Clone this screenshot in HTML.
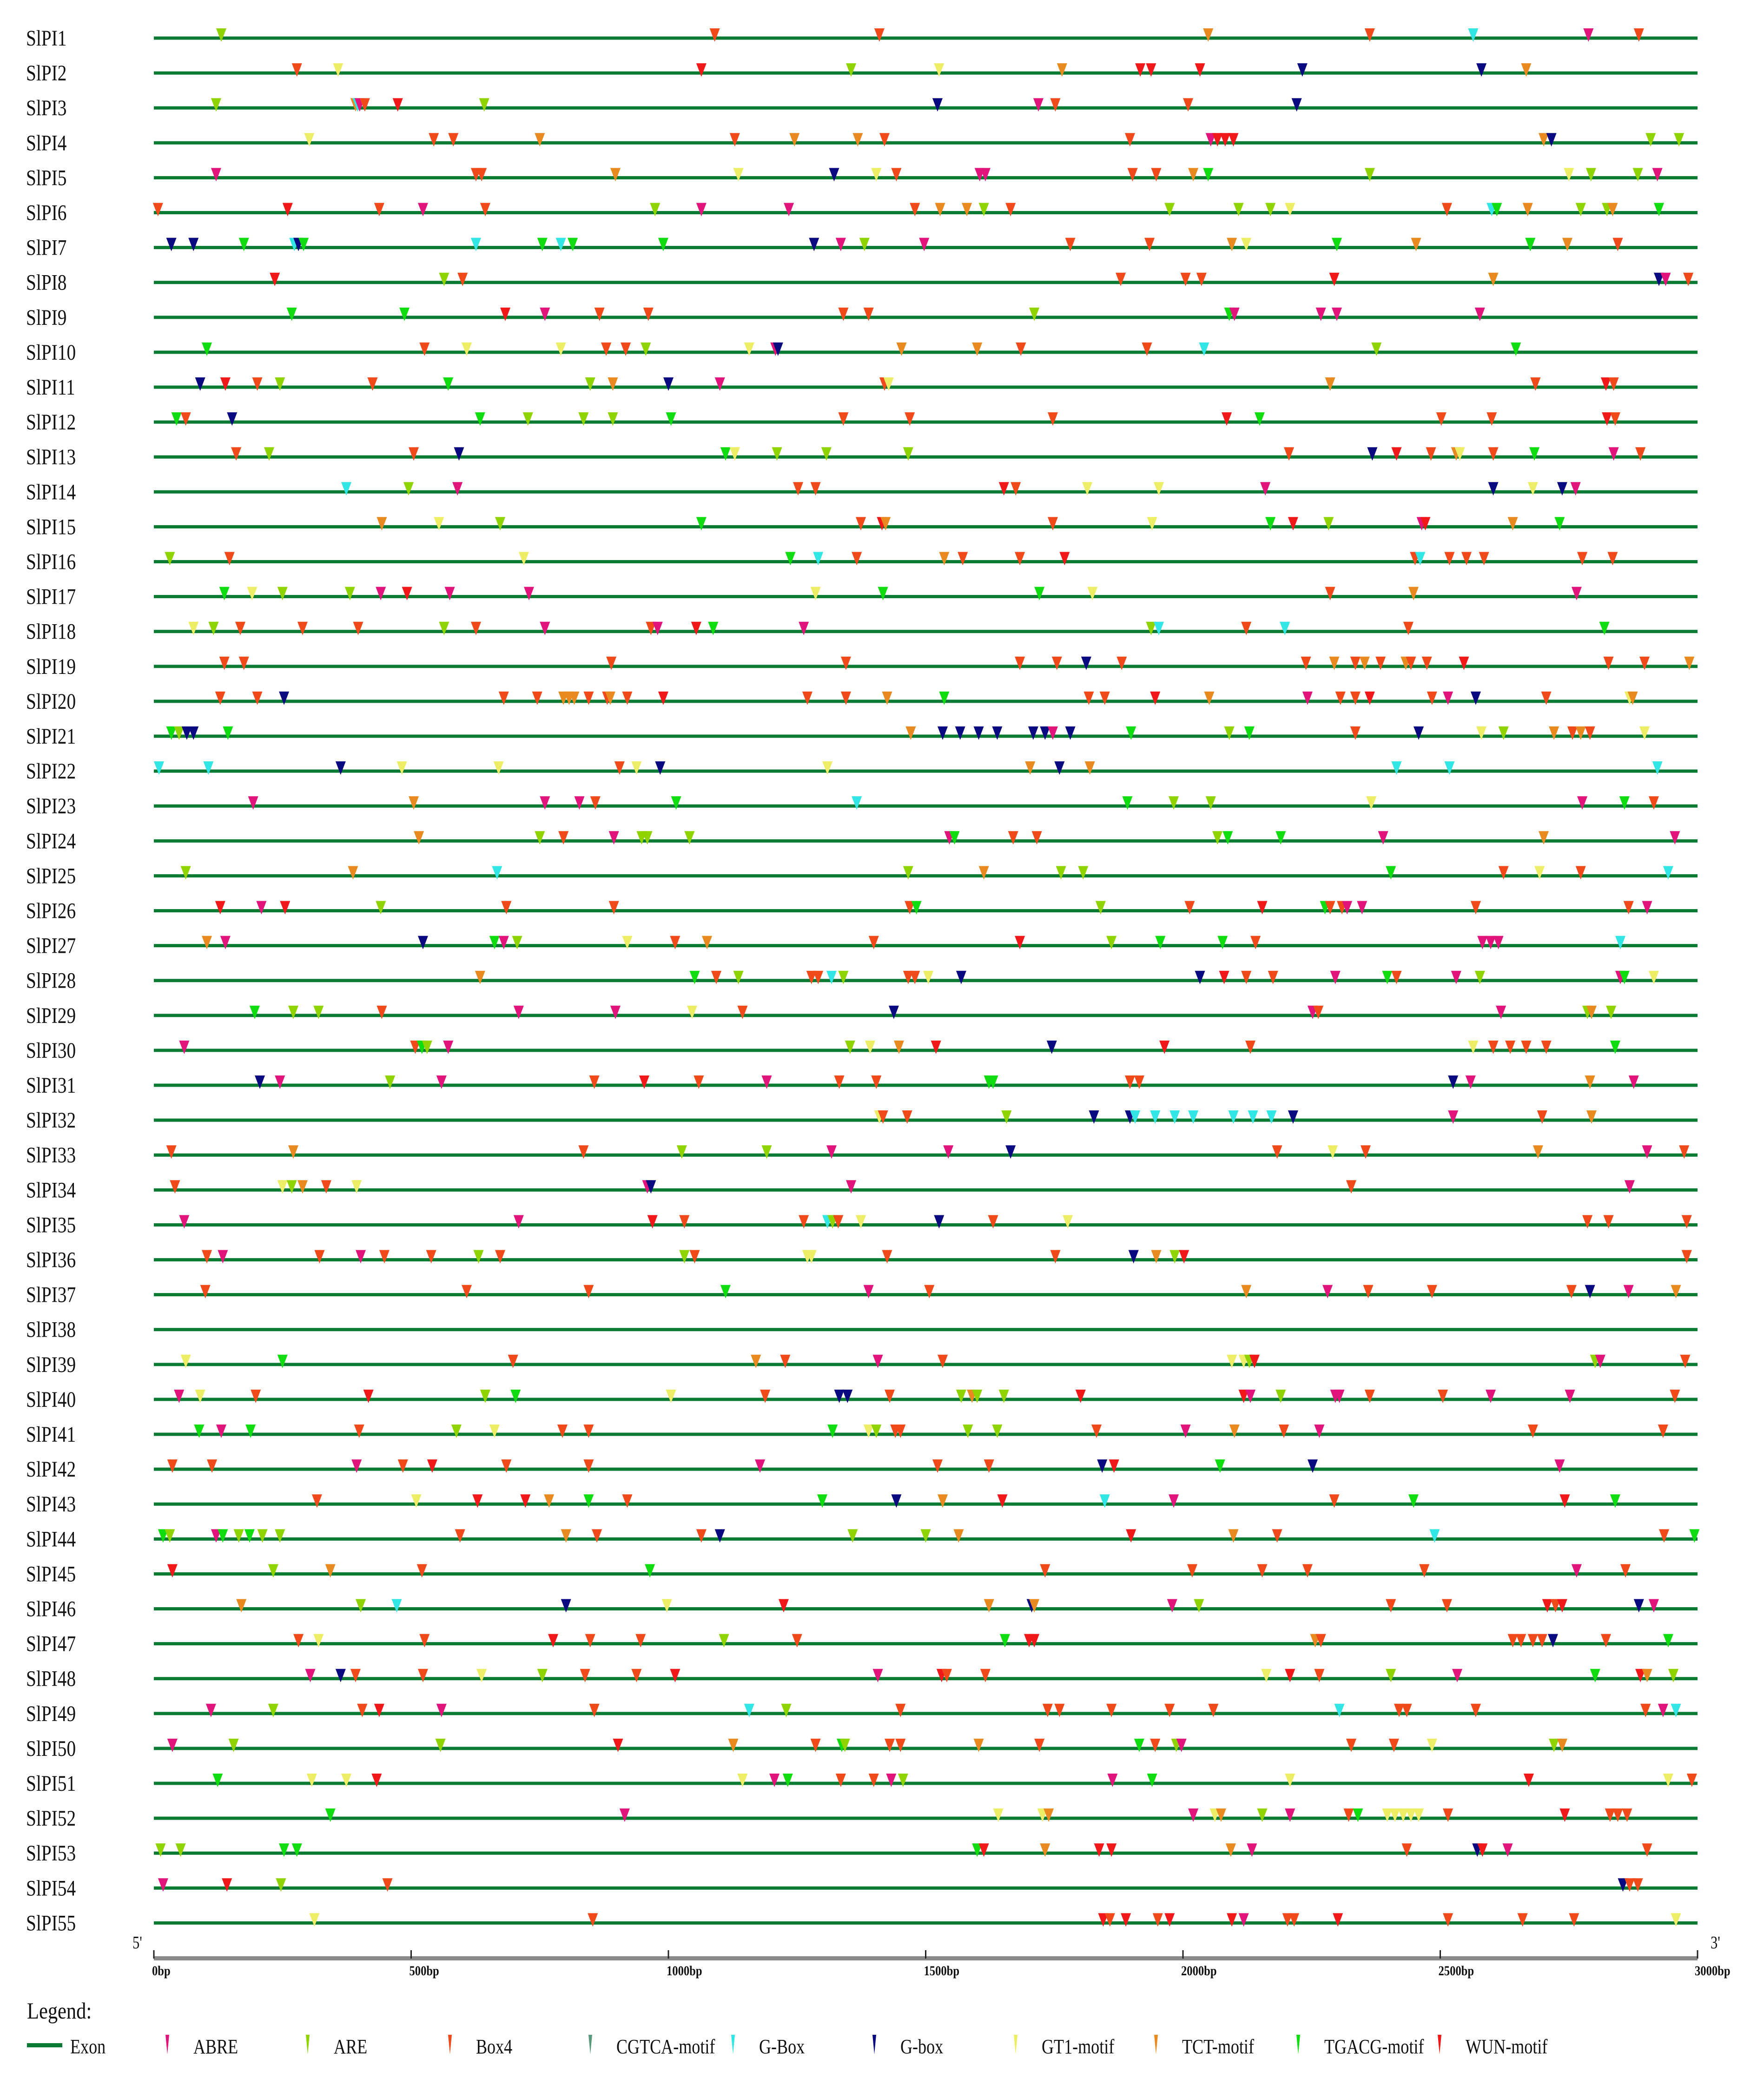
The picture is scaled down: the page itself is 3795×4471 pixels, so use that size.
<!DOCTYPE html>
<html><head><meta charset="utf-8"><style>
html,body{margin:0;padding:0;background:#fff;}
svg{display:block;}
</style></head><body>
<svg id="chart" xmlns="http://www.w3.org/2000/svg" width="3795" height="4471" viewBox="0 0 3795 4471">
<rect width="3795" height="4471" fill="#fff"/>
<g id="rows"></g>
<g id="axis"></g>
<g id="legend"></g>
</svg>
<script>
const geneNames = Array.from({length:55},(_,i)=>'SlPI'+(i+1));
const axisTicks = [0,500,1000,1500,2000,2500,3000];
const tickLabels = ['0bp','500bp','1000bp','1500bp','2000bp','2500bp','3000bp'];
const motifCodes = ['A','R','B','C','Gc','Gn','Y','T','Tg','W'];
const motifNames = ['ABRE','ARE','Box4','CGTCA-motif','G-Box','G-box','GT1-motif','TCT-motif','TGACG-motif','WUN-motif'];
const motifColors = ['#e0147a','#8fd400','#f04a1a','#5a9a7a','#33e6e6','#0a0a80','#eeee66','#e88a20','#10dd10','#f01818'];
const siteData = [
"R131 B1090 B1410 T2049 B2363 Gc2564 A2788 B2886",
"B278 Y358 W1064 R1355 Y1526 T1765 W1917 W1938 W2033 Gn2232 Gn2580 T2667",
"R121 T392 Gc396 A400 B410 W474 R642 Gn1523 A1719 B1752 B2010 Gn2221",
"Y302 B544 B582 T750 B1129 T1245 T1368 B1420 B1897 A2054 W2067 W2082 W2098 T2701 Gn2716 R2909 R2964",
"A121 B626 B637 T897 Y1136 Gn1322 Y1404 B1443 A1605 A1616 B1902 B1948 T2020 Tg2049 R2363 Y2750 R2793 R2884 A2922",
"B8 W260 B438 A523 B644 R974 A1064 A1234 B1479 T1528 T1580 R1613 B1665 R1974 R2108 R2170 Y2208 B2513 Gc2600 Tg2610 T2670 R2773 R2824 T2835 Tg2925",
"Gn34 Gn77 Tg175 Gc273 Gn281 Tg291 Gc626 Tg755 Gc791 Tg814 Tg990 Gn1283 A1335 R1381 A1497 B1781 B1935 T2095 Y2123 Tg2299 T2453 Tg2675 T2747 B2845",
"W235 R564 B600 B1879 B2005 B2036 W2294 T2603 Gn2925 A2938 B2982",
"Tg268 Tg487 W683 A760 B866 B961 B1340 B1389 R1711 Tg2090 A2100 A2268 A2299 A2577",
"Tg103 B526 Y608 Y791 B879 B917 R956 Y1157 A1208 Gn1213 T1453 T1600 B1685 B1930 Gc2041 R2376 Tg2647",
"Gn90 W139 B201 R245 B425 Tg572 R848 T892 Gn1000 A1100 B1420 Y1428 T2286 B2685 W2822 B2837",
"Tg44 B62 Gn152 Tg634 R727 R835 R892 Tg1005 B1340 B1469 B1747 W2085 Tg2149 B2502 B2600 W2824 B2840",
"B160 R224 B505 Gn593 Tg1111 Y1129 R1211 R1307 R1466 B2206 Gn2368 W2415 B2482 T2531 Y2538 B2603 Tg2683 A2837 B2889",
"Gc374 R495 A590 B1252 B1286 W1652 B1675 Y1814 Y1953 A2160 Gn2603 Y2680 Gn2737 A2763",
"T443 Y554 R673 Tg1064 B1374 W1415 T1422 B1747 Y1940 Tg2170 W2214 R2283 A2464 W2471 T2641 Tg2732",
"R31 B147 Y719 Tg1237 Gc1291 B1366 T1536 B1572 B1683 W1770 B2451 Gc2461 B2518 B2551 B2585 B2776 B2835",
"Tg137 Y191 R250 R381 A441 W492 A575 A729 Y1286 Tg1417 Tg1721 Y1824 B2286 T2448 A2765",
"Y77 R116 B168 B289 B397 R564 B626 A760 B966 A979 W1054 Tg1087 A1263 R1938 Gc1953 B2123 Gc2198 B2438 Tg2819",
"B137 B175 B889 B1345 B1683 B1755 Gn1812 B1881 B2239 T2294 B2335 T2353 B2384 T2433 B2443 B2474 W2546 B2827 B2897 T2984",
"B129 B201 Gn253 B680 B745 T796 T807 T817 B845 B881 T887 B920 W990 B1270 B1345 T1425 Tg1536 B1817 B1848 W1946 T2051 A2242 B2306 B2335 W2363 B2484 A2515 Gn2569 B2706 Y2868 T2874",
"Tg34 R49 Gn64 Gn77 Tg144 T1471 Gn1533 Gn1567 Gn1603 Gn1639 Gn1709 Gn1732 A1747 Gn1781 Tg1899 R2090 Tg2129 B2335 Gn2458 Y2580 R2623 T2721 B2757 T2773 B2791 Y2897",
"Gc10 Gc106 Gn363 Y482 Y670 B905 Y938 Gn984 Y1309 T1703 Gn1760 T1819 Gc2415 Gc2518 Gc2922",
"A193 T505 A760 A827 B858 Tg1015 Gc1366 Tg1892 R1982 R2054 Y2366 A2776 Tg2858 B2915",
"T515 R750 B796 A894 R948 R959 R1041 A1546 Tg1556 B1670 B1716 R2067 Tg2087 Tg2190 A2389 T2701 A2956",
"R62 T387 Gc667 R1466 T1613 R1763 R1806 Tg2404 B2623 Y2693 B2773 Gc2943",
"W129 A209 W255 R441 B685 B894 B1469 Tg1482 R1840 B2013 W2154 Tg2276 B2286 B2309 A2319 A2348 B2569 B2866 A2902",
"T103 A139 Gn523 Tg662 A680 R706 Y920 B1013 T1075 B1399 W1683 R1861 Tg1956 Tg2077 B2141 A2582 A2598 A2613 Gc2850",
"T634 Tg1051 B1093 R1136 B1278 B1291 Gc1317 R1340 B1466 B1479 Y1505 Gn1569 Gn2033 W2080 B2123 B2175 A2296 Tg2397 B2415 A2531 R2577 A2850 Tg2858 Y2915",
"Tg196 R271 R320 B443 A709 A897 Y1046 B1144 Gn1438 A2252 B2263 A2618 R2786 T2794 R2832",
"A59 B508 Tg521 R531 A572 R1353 Y1392 T1448 W1520 Gn1745 W1964 B2131 Y2564 B2603 B2636 B2667 B2706 Tg2840",
"Gn206 A245 R459 A559 B856 W953 B1059 A1191 B1332 B1404 Tg1623 Tg1631 B1897 B1915 Gn2525 A2559 T2791 A2876",
"Y1410 B1417 B1464 R1657 Gn1827 Gn1897 Gc1907 Gc1946 Gc1984 Gc2020 Gc2098 Gc2136 Gc2172 Gn2214 A2525 B2698 T2794",
"B34 T271 B835 R1026 R1191 A1317 A1544 Gn1665 B2183 Y2291 B2355 T2690 A2902 B2974",
"B41 Y250 R268 T289 B335 Y394 A959 Gn966 A1355 B2327 A2868",
"A59 A709 W969 B1031 B1263 Gc1309 R1319 B1330 Y1374 Gn1526 B1631 Y1776 B2786 B2827 B2979",
"B103 A134 B322 A402 B448 B539 R631 B673 R1031 B1051 Y1270 Y1278 B1425 B1752 Gn1904 T1948 R1984 W2002 B2979",
"B100 B608 B845 Tg1111 A1389 B1507 T2123 A2281 B2360 B2484 B2755 Gn2791 A2866 T2958",
"",
"Y62 Tg250 B698 T1170 B1227 A1407 B1533 Y2095 Y2118 R2129 W2139 R2801 A2811 B2976",
"A49 Y90 B198 W417 R644 Tg703 Y1005 B1188 Gn1332 Gn1348 B1430 R1569 T1590 R1600 R1652 W1801 W2118 A2131 R2190 A2296 A2304 B2363 B2505 A2598 A2752 B2956",
"Tg88 A131 Tg188 B399 R588 Y662 B794 B845 Tg1319 Y1389 R1404 B1441 B1451 R1582 R1639 B1832 A2005 T2100 B2196 A2265 B2680 B2933",
"B36 B113 A394 B484 W541 B685 B845 A1178 B1523 B1623 Gn1843 W1866 Tg2072 Gn2252 A2732",
"B317 Y510 W629 W722 T768 Tg845 B920 Tg1299 Gn1443 T1533 W1649 Gc1848 A1982 B2294 Tg2448 W2742 Tg2840",
"Tg18 R31 A121 Tg134 R165 Tg186 R211 R245 B595 T801 B861 B1064 Gn1100 R1358 R1500 T1564 W1899 T2098 B2183 Gc2489 B2935 Tg2994",
"W36 R232 T343 B521 Tg964 B1732 B2018 B2154 B2242 B2469 A2765 B2860",
"T170 R402 Gc472 Gn801 Y997 W1224 T1623 Gn1706 T1711 A1979 R2031 B2404 B2513 W2708 B2724 W2737 Gn2886 A2915",
"B281 Y320 B526 W776 B848 B946 R1108 B1250 Tg1654 W1701 W1711 T2257 B2268 B2641 B2657 B2680 B2698 Gn2719 B2822 Tg2943",
"A304 Gn363 B392 B523 Y637 R755 B838 B938 W1013 A1407 W1531 B1541 B1616 Y2162 W2208 B2265 R2404 A2533 Tg2801 W2889 T2902 R2953",
"A111 R232 B405 W438 A559 B856 Gc1157 R1229 B1451 B1737 B1760 B1861 B1974 B2059 Gc2304 B2420 B2435 B2569 B2899 A2933 Gc2958",
"A36 R155 R557 W902 T1126 B1286 Tg1337 R1343 B1430 B1451 T1603 B1721 Tg1915 B1946 R1987 A1997 B2327 B2410 Y2484 R2721 T2737",
"Tg124 Y307 Y374 W433 Y1144 A1206 Tg1232 B1335 B1399 A1433 R1456 A1863 Tg1940 Y2208 W2672 Y2943 B2989",
"Tg343 A915 Y1641 Y1727 T1739 A2020 Y2062 T2074 R2154 A2208 B2322 Tg2340 Y2397 Y2412 Y2428 Y2443 Y2458 B2515 W2742 B2830 B2845 B2863",
"R13 R52 Tg253 Tg278 Tg1600 W1613 T1732 W1837 W1861 T2093 A2134 B2435 Gn2572 W2582 A2631 B2902",
"A18 W142 R247 B454 Gn2855 B2868 B2884",
"Y312 B853 W1845 B1858 W1889 B1951 W1974 W2095 A2118 B2203 B2216 W2301 B2515 B2660 B2760 Y2958"
];
const NS='http://www.w3.org/2000/svg';
const X0=331, X1=3652, Y0=82, DY=75.1;
function xScale(bp){return X0+bp/3000*(X1-X0);}
function yScale(i){return Y0+i*DY;}
function mk(tag,attrs){const e=document.createElementNS(NS,tag);for(const k in attrs)e.setAttribute(k,attrs[k]);return e;}
const rowsG=document.getElementById('rows');
geneNames.forEach((name,i)=>{
  const y=yScale(i);
  const g=mk('g',{});
  
  
  const t=mk('text',{x:0,y:0,'font-family':'Liberation Serif, serif','font-size':'48',fill:'#111',transform:`translate(56,${y+16}) scale(0.82,1)`});
  t.textContent=name;
  
  
  g.appendChild(t);
  const ln=mk('rect',{x:X0,y:y-3.5,width:X1-X0,height:7,fill:'#0b7a32'});
  
  
  g.appendChild(ln);
  const s=siteData[i].trim();
  if(s){s.split(/\s+/).forEach(tok=>{
    const m=tok.match(/^([A-Za-z]+)(\d+)$/);
    const k=motifCodes.indexOf(m[1]);const bp=+m[2];
    const x=xScale(bp);
    const p=mk('polygon',{points:`${x-11},${y-21} ${x+11},${y-21} ${x},${y+8}`,fill:motifColors[k]});
    
    
    g.appendChild(p);
  });}
  rowsG.appendChild(g);
});
const ax=document.getElementById('axis');
const t5=mk('text',{x:0,y:0,'font-family':'Liberation Serif, serif','font-size':'38',fill:'#111',transform:'translate(285,4192) scale(0.8,1)'});t5.textContent="5'";


ax.appendChild(t5);
const t3=mk('text',{x:0,y:0,'font-family':'Liberation Serif, serif','font-size':'38',fill:'#111',transform:'translate(3680,4192) scale(0.8,1)'});t3.textContent="3'";


ax.appendChild(t3);
const bar=mk('rect',{x:X0,y:4209,width:X1-X0,height:9,fill:'#8a8a8a'});


ax.appendChild(bar);
axisTicks.forEach((v,i)=>{
  const x=xScale(v);
  const tk=mk('rect',{x:x-1.5,y:4196,width:3,height:18,fill:'#222'});
  
  
  ax.appendChild(tk);
  const lx = i===axisTicks.length-1 ? x-6 : x-4;
  const lb=mk('text',{x:0,y:0,'font-family':'Liberation Serif, serif','font-size':'30','font-weight':'bold',fill:'#111',transform:`translate(${lx},4250) scale(0.82,1)`});
  lb.textContent=tickLabels[i];
  
  
  ax.appendChild(lb);
});
const lg=document.getElementById('legend');
const lt=mk('text',{x:0,y:0,'font-family':'Liberation Serif, serif','font-size':'50',fill:'#111',transform:'translate(58,4343) scale(0.85,1)'});lt.textContent='Legend:';


lg.appendChild(lt);
const ex=mk('rect',{x:58,y:4396,width:76,height:9,fill:'#0b7a32'});


lg.appendChild(ex);
const et=mk('text',{x:0,y:0,'font-family':'Liberation Serif, serif','font-size':'44',fill:'#111',transform:'translate(151,4418) scale(0.82,1)'});et.textContent='Exon';


lg.appendChild(et);
const legMarkX=[360,662,968,1270,1577,1881,2185,2487,2793,3097];
motifNames.forEach((n,k)=>{
  const mx=legMarkX[k];
  const p=mk('polygon',{points:`${mx-4},4378 ${mx+4},4378 ${mx},4420`,fill:motifColors[k]});
  
  
  lg.appendChild(p);
  const tx=mk('text',{x:0,y:0,'font-family':'Liberation Serif, serif','font-size':'44',fill:'#111',transform:`translate(${mx+56},4418) scale(0.82,1)`});
  tx.textContent=n;
  
  
  lg.appendChild(tx);
});
</script>
</body></html>
